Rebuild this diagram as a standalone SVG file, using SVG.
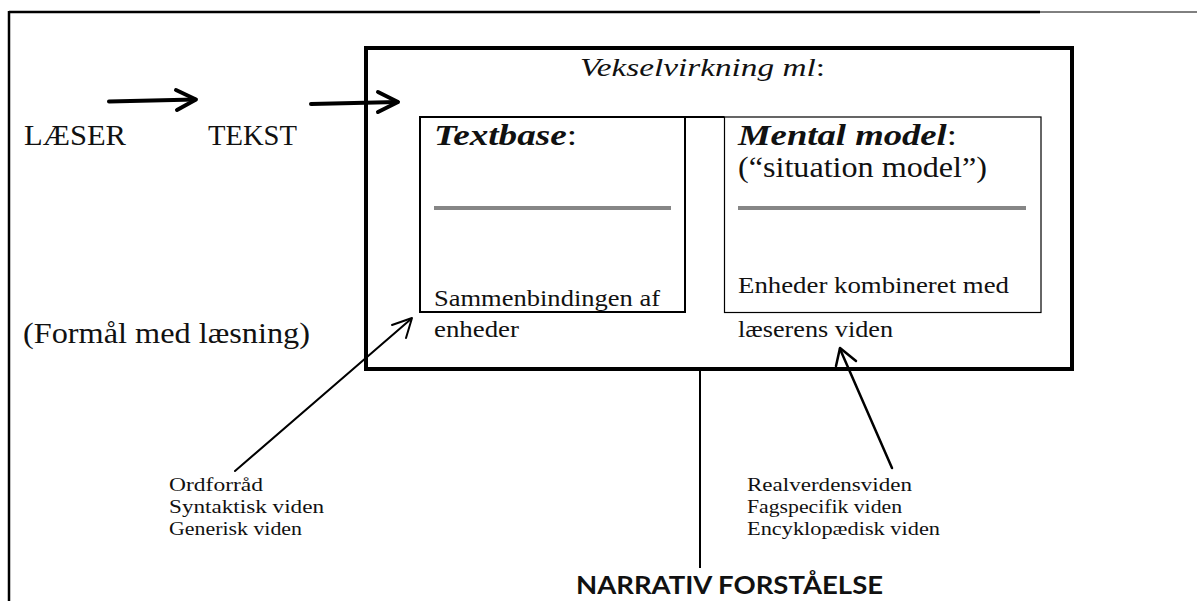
<svg xmlns="http://www.w3.org/2000/svg" width="1197" height="601" viewBox="0 0 1197 601">
  <style>
    .serif { font-family: "Liberation Serif", "Times New Roman", serif; fill: #111; }
    .big { font-size: 29px; }
    .mid { font-size: 23px; }
    .small { font-size: 19px; }
    .it { font-style: italic; }
    .bi { font-style: italic; font-weight: bold; }
    .sans { font-family: Lato, "Liberation Sans", Arial, sans-serif; font-weight: bold; font-size: 24px; fill: #111; }
    .frame { fill: none; stroke: #000; }
    .rule { stroke: #868686; stroke-width: 4; }
    .conn { fill: none; stroke: #000; stroke-linecap: round; stroke-linejoin: round; }
  </style>

  <!-- page frame -->
  <g id="page-frame">
    <line x1="9" y1="12" x2="1040" y2="12" stroke="#000" stroke-width="2.5"/>
    <line x1="1040" y1="12" x2="1197" y2="12" stroke="#000" stroke-width="1"/>
    <line x1="9" y1="11" x2="9" y2="601" stroke="#000" stroke-width="2.5"/>
  </g>

  <!-- reader / text labels -->
  <g id="laeser">
    <text class="serif big" x="24" y="145" textLength="102" lengthAdjust="spacingAndGlyphs">LÆSER</text>
  </g>
  <g id="tekst">
    <text class="serif big" x="208" y="145" textLength="89" lengthAdjust="spacingAndGlyphs">TEKST</text>
  </g>
  <g id="formaal">
    <text class="serif big" x="23" y="343" textLength="287" lengthAdjust="spacingAndGlyphs">(Formål med læsning)</text>
  </g>

  <!-- interaction box -->
  <g id="vekselvirkning">
    <rect class="frame" x="366" y="48" width="706" height="321" stroke-width="4"/>
    <text class="serif" x="580" y="76" font-size="26" textLength="245" lengthAdjust="spacingAndGlyphs"><tspan class="it">Vekselvirkning ml</tspan>:</text>
  </g>

  <g id="textbase">
    <rect class="frame" x="420" y="117" width="265" height="195" stroke-width="2"/>
    <text class="serif big" x="434" y="145" textLength="143" lengthAdjust="spacingAndGlyphs"><tspan class="bi">Textbase</tspan>:</text>
    <line class="rule" x1="434" y1="208" x2="671" y2="208"/>
    <text class="serif mid" x="434" y="306" textLength="226" lengthAdjust="spacingAndGlyphs">Sammenbindingen af</text>
    <text class="serif mid" x="434" y="337" textLength="85" lengthAdjust="spacingAndGlyphs">enheder</text>
  </g>

  <g id="mental-model">
    <rect class="frame" x="724.5" y="117" width="316.5" height="195.5" stroke-width="1.2"/>
    <text class="serif big" x="738" y="145" textLength="219" lengthAdjust="spacingAndGlyphs"><tspan class="bi">Mental model</tspan>:</text>
    <text class="serif big" x="738" y="177" textLength="249" lengthAdjust="spacingAndGlyphs">(“situation model”)</text>
    <line class="rule" x1="738" y1="208" x2="1026" y2="208"/>
    <text class="serif mid" x="738" y="293" textLength="271" lengthAdjust="spacingAndGlyphs">Enheder kombineret med</text>
    <text class="serif mid" x="738" y="337" textLength="155" lengthAdjust="spacingAndGlyphs">læserens viden</text>
  </g>

  <!-- knowledge sources -->
  <g id="tekstviden">
    <text class="serif small" x="169" y="491" textLength="94" lengthAdjust="spacingAndGlyphs">Ordforråd</text>
    <text class="serif small" x="169" y="513" textLength="155" lengthAdjust="spacingAndGlyphs">Syntaktisk viden</text>
    <text class="serif small" x="169" y="535" textLength="133" lengthAdjust="spacingAndGlyphs">Generisk viden</text>
  </g>
  <g id="verdensviden">
    <text class="serif small" x="747" y="491" textLength="165" lengthAdjust="spacingAndGlyphs">Realverdensviden</text>
    <text class="serif small" x="747" y="513" textLength="155" lengthAdjust="spacingAndGlyphs">Fagspecifik viden</text>
    <text class="serif small" x="747" y="535" textLength="193" lengthAdjust="spacingAndGlyphs">Encyklopædisk viden</text>
  </g>

  <g id="narrativ">
    <text class="sans" x="576" y="594" textLength="307" lengthAdjust="spacingAndGlyphs">NARRATIV FORSTÅELSE</text>
  </g>

  <!-- connectors -->
  <g id="connectors">
    <!-- LÆSER -> TEKST -->
    <line class="conn" x1="109" y1="101.5" x2="195" y2="99.5" stroke-width="4"/>
    <polyline class="conn" points="176,90 196,99.5 177,110" stroke-width="4"/>
    <!-- TEKST -> interaction box -->
    <line class="conn" x1="311" y1="104" x2="397" y2="102" stroke-width="4"/>
    <polyline class="conn" points="378,92 398,102 378,112" stroke-width="4"/>
    <!-- link between the two model boxes -->
    <line x1="685" y1="117" x2="724.5" y2="117" stroke="#000" stroke-width="1.8"/>
    <!-- text knowledge -> textbase -->
    <line class="conn" x1="235" y1="471" x2="411" y2="319" stroke-width="2"/>
    <polyline class="conn" points="392,325 412,318 406,338" stroke-width="2"/>
    <!-- world knowledge -> mental model -->
    <line class="conn" x1="892" y1="468" x2="840" y2="349" stroke-width="2.5"/>
    <polyline class="conn" points="836,366 840,348 856,361" stroke-width="2.5"/>
    <!-- interaction box -> narrative comprehension -->
    <line x1="700" y1="369" x2="700" y2="568" stroke="#000" stroke-width="2"/>
  </g>
</svg>
